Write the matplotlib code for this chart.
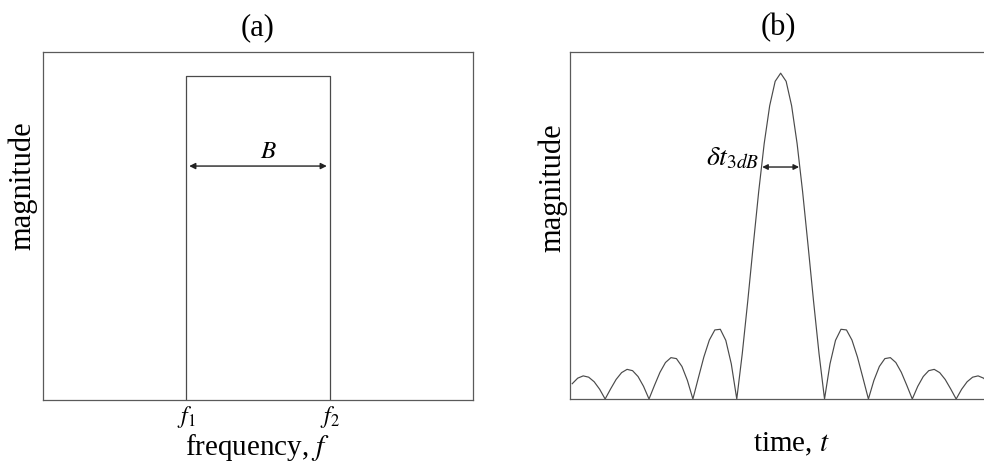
import matplotlib
matplotlib.use("Agg")
import matplotlib.pyplot as plt

plt.rcParams["font.family"] = ["Liberation Serif", "DejaVu Serif"]
plt.rcParams["mathtext.fontset"] = "stix"

# (a) ideal band-limited spectrum between f1 and f2
band_f = [1.0, 1.0, 2.0, 2.0]
band_mag = [0.0, 1.0, 1.0, 0.0]
band_ticks = [1.0, 2.0]
band_tick_labels = [r"$f_1$", r"$f_2$"]
bandwidth_level = 0.722

# (b) compressed pulse magnitude, time in units of the first-null spacing
pulse_t = [
    -4.75, -4.625, -4.5, -4.375, -4.25, -4.125, -4.0,
    -3.875, -3.75, -3.625, -3.5, -3.375, -3.25, -3.125, -3.0,
    -2.875, -2.75, -2.625, -2.5, -2.375, -2.25, -2.125, -2.0,
    -1.875, -1.75, -1.625, -1.5, -1.375, -1.25, -1.125, -1.0,
    -0.875, -0.75, -0.625, -0.5, -0.375, -0.25, -0.125, 0.0,
    0.125, 0.25, 0.375, 0.5, 0.625, 0.75, 0.875, 1.0,
    1.125, 1.25, 1.375, 1.5, 1.625, 1.75, 1.875, 2.0,
    2.125, 2.25, 2.375, 2.5, 2.625, 2.75, 2.875, 3.0,
    3.125, 3.25, 3.375, 3.5, 3.625, 3.75, 3.875, 4.0,
    4.125, 4.25, 4.375, 4.5, 4.625, 4.75, 4.875, 5.0,
]
pulse_mag = [
    0.047, 0.064, 0.071, 0.067, 0.053, 0.030, 0.0,
    0.031, 0.060, 0.081, 0.091, 0.087, 0.069, 0.039, 0.0,
    0.042, 0.082, 0.112, 0.127, 0.124, 0.100, 0.057, 0.0,
    0.065, 0.129, 0.181, 0.212, 0.214, 0.180, 0.108, 0.0,
    0.139, 0.300, 0.471, 0.637, 0.784, 0.900, 0.975, 1.0,
    0.975, 0.900, 0.784, 0.637, 0.471, 0.300, 0.139, 0.0,
    0.108, 0.180, 0.214, 0.212, 0.181, 0.129, 0.065, 0.0,
    0.057, 0.100, 0.124, 0.127, 0.112, 0.082, 0.042, 0.0,
    0.039, 0.069, 0.087, 0.091, 0.081, 0.060, 0.031, 0.0,
    0.030, 0.053, 0.067, 0.071, 0.064, 0.047, 0.025, 0.0,
]
width_3db = [-0.42, 0.42]
level_3db = 0.712

LINE = "#4a4a4a"
SPINE = "#5a5a5a"

fig = plt.figure(figsize=(9.84, 4.68), dpi=100)
ax_a = fig.add_axes([0.0437, 0.1453, 0.437, 0.7436])
ax_b = fig.add_axes([0.5793, 0.1474, 0.437, 0.7415])

for ax in (ax_a, ax_b):
    for sp in ax.spines.values():
        sp.set_color(SPINE)
        sp.set_linewidth(0.9)
    ax.tick_params(length=0)
    ax.set_yticks([])

# (a) spectrum
ax_a.plot(band_f, band_mag, color=LINE, lw=0.9)
ax_a.set_xlim(0, 3)
ax_a.set_ylim(0, 1.074)
ax_a.set_xticks(band_ticks)
ax_a.set_xticklabels(band_tick_labels, fontsize=17)
ax_a.tick_params(axis="x", pad=3)
ax_a.annotate("", xy=(band_f[2] - 0.02, bandwidth_level),
              xytext=(band_f[0] + 0.02, bandwidth_level),
              arrowprops=dict(arrowstyle="<|-|>", color="#222222", lw=1.0,
                              mutation_scale=9, shrinkA=0, shrinkB=0))
ax_a.text(1.57, bandwidth_level + 0.025, r"$B$", fontsize=18,
          ha="center", va="baseline")
ax_a.set_title("(a)", fontsize=22, pad=12)
ax_a.set_xlabel(r"frequency, $f$", fontsize=21)
ax_a.xaxis.set_label_coords(0.5, -0.092)
ax_a.set_ylabel("magnitude", fontsize=22)
ax_a.yaxis.set_label_coords(-0.012, 0.615)

# (b) compressed pulse
ax_b.plot(pulse_t, pulse_mag, color=LINE, lw=0.85)
ax_b.set_xlim(-4.8, 5.0)
ax_b.set_ylim(0, 1.065)
ax_b.set_xticks([])
ax_b.annotate("", xy=(width_3db[1], level_3db), xytext=(width_3db[0], level_3db),
              arrowprops=dict(arrowstyle="<|-|>", color="#222222", lw=1.0,
                              mutation_scale=8, shrinkA=0, shrinkB=0))
ax_b.text(width_3db[0] - 0.07, level_3db + 0.005, r"$\delta t_{\mathit{3dB}}$",
          fontsize=20, ha="right", va="baseline")
ax_b.set_title("(b)", fontsize=22, pad=12, x=0.485)
ax_b.set_xlabel(r"time, $t$", fontsize=21)
ax_b.xaxis.set_label_coords(0.515, -0.092)
ax_b.set_ylabel("magnitude", fontsize=22)
ax_b.yaxis.set_label_coords(-0.007, 0.61)

fig.savefig("out.png", dpi=100)
